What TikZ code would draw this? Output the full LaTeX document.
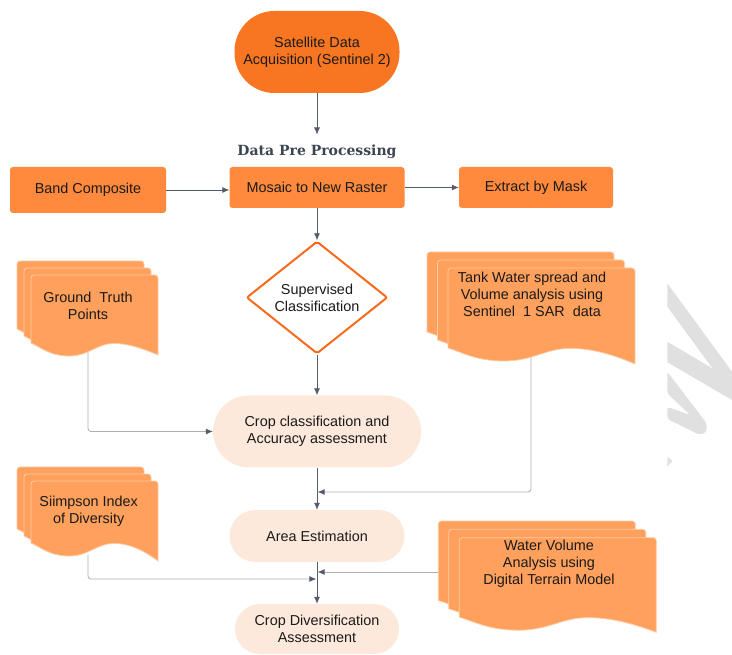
\documentclass[tikz,border=0pt]{standalone}
\usepackage{fontspec}
\setmainfont{Liberation Sans}
\newfontfamily\titlefont{DejaVu Serif}
\usetikzlibrary{shapes.geometric,arrows.meta}
\definecolor{topfill}{RGB}{248,118,33}
\definecolor{boxfill}{RGB}{255,138,61}
\definecolor{docfill}{RGB}{255,160,92}
\definecolor{docedge}{RGB}{255,204,168}
\definecolor{peach}{RGB}{253,233,219}
\definecolor{diaedge}{RGB}{248,106,30}
\definecolor{conn}{RGB}{84,92,106}
\definecolor{connlight}{RGB}{170,173,178}
\definecolor{titlecol}{RGB}{59,68,81}
\definecolor{txt}{RGB}{26,26,26}
\definecolor{wm}{RGB}{224,224,224}
\newcommand{\docsheet}[5]{%
  \filldraw[sheetstyle] ({#1},{#2+#4}) [rounded corners=3pt] -- ({#1},{#2}) -- ({#1+#3},{#2}) [sharp corners] -- ({#1+#3},{#2+#5})
   .. controls ({#1+0.85*#3},{#2+#4+4}) and ({#1+0.74*#3},{#2+#4}) .. ({#1+0.64*#3},{#2+#4+0.5})
   .. controls ({#1+0.52*#3},{#2+#4+1}) and ({#1+0.45*#3},{#2+#4+13}) .. ({#1+0.3*#3},{#2+#4+13})
   .. controls ({#1+0.15*#3},{#2+#4+13}) and ({#1+0.07*#3},{#2+#4+4}) .. ({#1},{#2+#4}) -- cycle;}
\begin{document}
\begin{tikzpicture}[x=1pt,y=-1pt,
  every node/.style={text=txt,font=\fontsize{14.4}{17}\selectfont,align=center},
  sheetstyle/.style={fill=docfill,draw=docedge,line width=0.8pt},
  stadium/.style={draw=none,inner sep=0pt},
  rectbox/.style={fill=boxfill,rounded corners=3pt,inner sep=0pt},
  doctext/.style={inner sep=0pt},
  mainarrow/.style={draw=conn,line width=0.8pt,-{Latex[length=7pt,width=6pt]}},
  docarrow/.style={draw=connlight,line width=0.8pt,rounded corners=3pt,-{Latex[length=7pt,width=6pt,color=conn,fill=conn]}}]
\useasboundingbox (0,0) rectangle (732,655);
% watermark
\fill[wm] (667.3,283.3) -- (732,371.7) -- (732,395) -- (667.3,306.7) -- cycle;
\fill[wm] (667.3,341.7) -- (732,380) -- (732,400) -- (667.3,362.3) -- cycle;
\fill[wm, rounded corners=3pt] (667.3,371.7) -- (706.7,423.3) -- (706.7,431.7) -- (700,435) -- (667.3,419) -- (667.3,406.7) -- (690,415) -- (667.3,393.3) -- cycle;
\fill[wm] (667.3,456.7) -- (672.7,461) -- (667.3,466.7) -- cycle;
% main nodes
\node[stadium,fill=topfill,rounded corners=40pt,minimum width=165pt,minimum height=82pt] (sat) at (317,52) {Satellite Data\\Acquisition (Sentinel 2)};
\node[inner sep=0pt,minimum height=34pt,text=titlecol,font=\titlefont\bfseries\fontsize{14}{16}\selectfont] (title) at (317,151.7) {Data Pre Processing};
\node[rectbox,minimum width=156pt,minimum height=46pt] (band) at (88,190) {Band Composite};
\node[rectbox,minimum width=175pt,minimum height=41pt] (mosaic) at (317,187.5) {Mosaic to New Raster};
\node[rectbox,minimum width=154pt,minimum height=41pt] (extract) at (536,187.5) {Extract by Mask};
\node[diamond,draw=diaedge,fill=white,line width=2pt,rounded corners=2pt,inner sep=0pt,minimum width=141pt,minimum height=110pt] (sup) at (317,297.5) {Supervised\\Classification};
\node[stadium,fill=peach,rounded corners=36pt,minimum width=208pt,minimum height=72pt] (cropclass) at (317,431.5) {Crop classification and\\Accuracy assessment};
\node[stadium,fill=peach,rounded corners=26pt,minimum width=175pt,minimum height=52pt] (area) at (317,536) {Area Estimation};
\node[stadium,fill=peach,rounded corners=25pt,minimum width=164pt,minimum height=50pt] (cropdiv) at (317,629) {Crop Diversification\\Assessment};
% free ends of document connectors
\coordinate (gtb) at (88,350);
\coordinate (tankb) at (531,355);
\coordinate (sib) at (88,555);
\coordinate (wvl) at (438.3,572);
\coordinate (j1) at (317.6,492);
\coordinate (j2) at (317.6,572);
\coordinate (j3) at (316.4,579);
% connectors
\draw[mainarrow] (sat) -- (title);
\draw[mainarrow] (band.east) -- (band.east -| mosaic.west);
\draw[mainarrow] (mosaic.east) -- (mosaic.east -| extract.west);
\draw[mainarrow] (mosaic) -- (sup);
\draw[mainarrow] (sup) -- (cropclass);
\draw[mainarrow] (cropclass) -- (area);
\draw[mainarrow] (area) -- (cropdiv);
\draw[docarrow] (gtb) |- (cropclass.west);
\draw[docarrow] (tankb) |- (j1);
\draw[docarrow] (wvl) -- (j2);
\draw[docarrow] (sib) |- (j3);
% document stacks
\docsheet{17}{261}{127}{68}{80}
\docsheet{24}{268}{127}{68}{80}
\docsheet{31}{275}{127}{68}{80}
\node[doctext] (gt) at (88,306) {Ground\ \ Truth\\Points};
\docsheet{427}{252}{187}{80}{96}
\docsheet{437.5}{260}{187}{80}{96}
\docsheet{448}{268}{187}{80}{96}
\node[doctext] (tank) at (532,294) {Tank Water spread and\\Volume analysis using\\Sentinel\ \ 1 SAR\ \ data};
\docsheet{17}{467}{127}{62}{80}
\docsheet{24}{474}{127}{62}{80}
\docsheet{31}{481}{127}{62}{80}
\node[doctext] (simp) at (88.7,511.5) {Siimpson Index\\of Diversity};
\docsheet{438.3}{521}{197}{79.5}{94.6}
\docsheet{448.8}{529.3}{197}{79.5}{94.6}
\docsheet{459.3}{537.7}{197}{79.5}{94.6}
\node[doctext] (water) at (549,563.3) {Water Volume\\Analysis using\\Digital Terrain Model};
\end{tikzpicture}
\end{document}
